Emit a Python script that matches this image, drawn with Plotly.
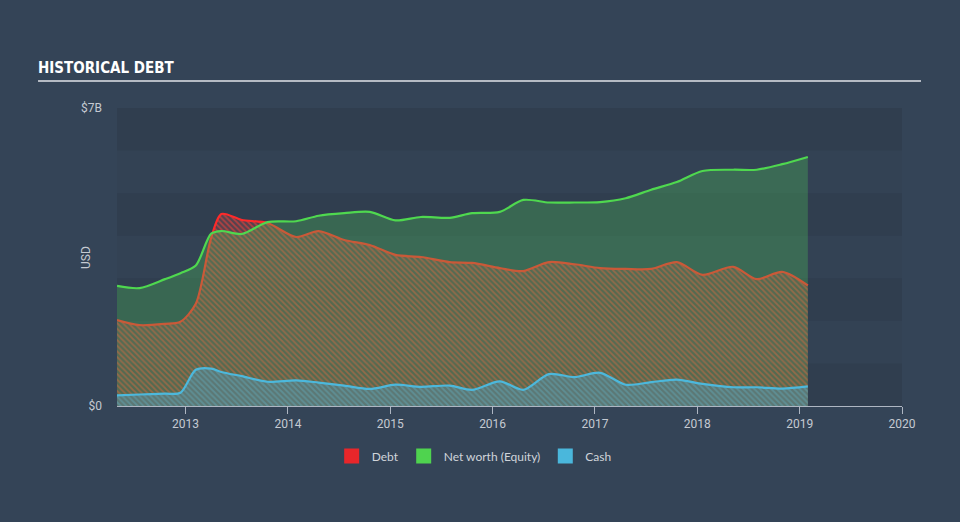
import plotly.graph_objects as go

# Decimal years of each reported point
years = [2012.33, 2012.55, 2012.80, 2012.95, 2013.10, 2013.25, 2013.35, 2013.55, 2013.80,
         2014.08, 2014.30, 2014.55, 2014.80, 2015.05, 2015.30, 2015.58, 2015.80,
         2016.07, 2016.30, 2016.55, 2016.80, 2017.05, 2017.30, 2017.55, 2017.80,
         2018.05, 2018.35, 2018.58, 2018.83, 2019.08]
# values in $B
debt = [2.02, 1.90, 1.93, 1.98, 2.40, 3.95, 4.51, 4.37, 4.30,
        3.97, 4.11, 3.90, 3.78, 3.55, 3.50, 3.38, 3.36,
        3.24, 3.17, 3.38, 3.33, 3.24, 3.22, 3.22, 3.38,
        3.08, 3.27, 2.98, 3.15, 2.83]
equity = [2.82, 2.77, 2.98, 3.12, 3.30, 4.05, 4.11, 4.04, 4.32,
          4.34, 4.47, 4.53, 4.56, 4.36, 4.44, 4.42, 4.53,
          4.56, 4.84, 4.78, 4.78, 4.79, 4.88, 5.08, 5.26,
          5.52, 5.55, 5.55, 5.68, 5.85]
cash = [0.25, 0.27, 0.29, 0.31, 0.85, 0.88, 0.80, 0.70, 0.57,
        0.60, 0.55, 0.48, 0.40, 0.50, 0.45, 0.48, 0.38,
        0.58, 0.38, 0.75, 0.68, 0.78, 0.50, 0.56, 0.62,
        0.52, 0.44, 0.44, 0.41, 0.46]

x_ticks = [2013, 2014, 2015, 2016, 2017, 2018, 2019, 2020]
x_ticktext = [str(t) for t in x_ticks]
y_ticks = [0, 7]
y_ticktext = ["$0", "$7B"]
bands = [0, 2, 4, 6]

PAGE_BG = "#344457"
LIGHT_BAND = "#334254"
DARK_BAND = "#303e4f"

fig = go.Figure()

fig.add_trace(go.Scatter(
    x=years, y=debt, mode="lines", name="Debt", showlegend=False,
    line=dict(color="#ff2a2a", width=2.2, shape="spline", smoothing=0.8),
    fill="tozeroy", fillcolor="rgba(0,0,0,0)",
    fillpattern=dict(shape="\\", fgcolor="#f0403a", fgopacity=0.6,
                     bgcolor="rgba(130,70,75,0.45)", size=4, solidity=0.45),
    hoverinfo="skip"))

fig.add_trace(go.Scatter(
    x=years, y=equity, mode="lines", name="Net worth (Equity)", showlegend=False,
    line=dict(color="#4fd84f", width=2.2, shape="spline", smoothing=0.8),
    fill="tozeroy", fillcolor="rgba(80,200,90,0.30)",
    hoverinfo="skip"))

fig.add_trace(go.Scatter(
    x=years, y=cash, mode="lines", name="Cash", showlegend=False,
    line=dict(color="#4cb8dc", width=2.2, shape="spline", smoothing=0.8),
    fill="tozeroy", fillcolor="rgba(0,0,0,0)",
    fillpattern=dict(shape="\\", fgcolor="#5aa8b8", fgopacity=0.5,
                     bgcolor="rgba(92,122,122,0.88)", size=4, solidity=0.45),
    hoverinfo="skip"))

# legend entries
for name, col in [("Debt", "#e8262a"), ("Net worth (Equity)", "#4fd34f"), ("Cash", "#4ab7dc")]:
    fig.add_trace(go.Scatter(
        x=[None], y=[None], mode="markers", name=name,
        marker=dict(symbol="square", size=15, color=col)))

shapes = []
for b in bands:
    shapes.append(dict(type="rect", xref="paper", yref="y", x0=0, x1=1, y0=b, y1=b + 1,
                       fillcolor=DARK_BAND, line=dict(width=0), layer="below"))
shapes.append(dict(type="line", xref="paper", yref="paper",
                   x0=-0.1006, x1=1.0242, y0=1.0906, y1=1.0906,
                   line=dict(color="#b5bbc4", width=2)))
fig.update_layout(shapes=shapes)

fig.add_annotation(text="USD", textangle=-90, xref="paper", yref="paper",
                   x=-0.0395, y=0.5, xanchor="center", yanchor="middle",
                   showarrow=False, font=dict(size=12, color="#c5cad2"))

fig.update_layout(
    width=960, height=522,
    margin=dict(l=117, r=58, t=108, b=116),
    paper_bgcolor=PAGE_BG, plot_bgcolor=LIGHT_BAND,
    title=dict(text="<b>HISTORICAL DEBT</b>", x=0.0396, xanchor="left",
               y=0.87, yanchor="middle",
               font=dict(family="DejaVu Sans Condensed, Roboto, sans-serif",
                         size=15, color="#ffffff")),
    font=dict(family="Roboto, sans-serif", color="#c5cad2", size=12),
    showlegend=True,
    legend=dict(orientation="h", x=0.455, xanchor="center", y=-0.168, yanchor="middle",
                font=dict(family="Lato, sans-serif", size=12, color="#d0d4da"),
                bgcolor="rgba(0,0,0,0)", itemwidth=30, tracegroupgap=0),
    xaxis=dict(range=[2012.33, 2020.0], tickvals=x_ticks, ticktext=x_ticktext,
               showgrid=False, zeroline=False, showline=True, linecolor="#aeb6c2", linewidth=1,
               ticks="outside", ticklen=7, tickcolor="#aeb6c2", tickwidth=1,
               tickfont=dict(size=12, color="#c5cad2"), fixedrange=True),
    yaxis=dict(range=[0, 7], tickvals=y_ticks, ticktext=y_ticktext,
               showgrid=False, zeroline=False, showline=False, ticks="",
               ticklabelstandoff=14,
               tickfont=dict(size=12, color="#c5cad2"),
               fixedrange=True),
)

fig.write_html("out.html")
